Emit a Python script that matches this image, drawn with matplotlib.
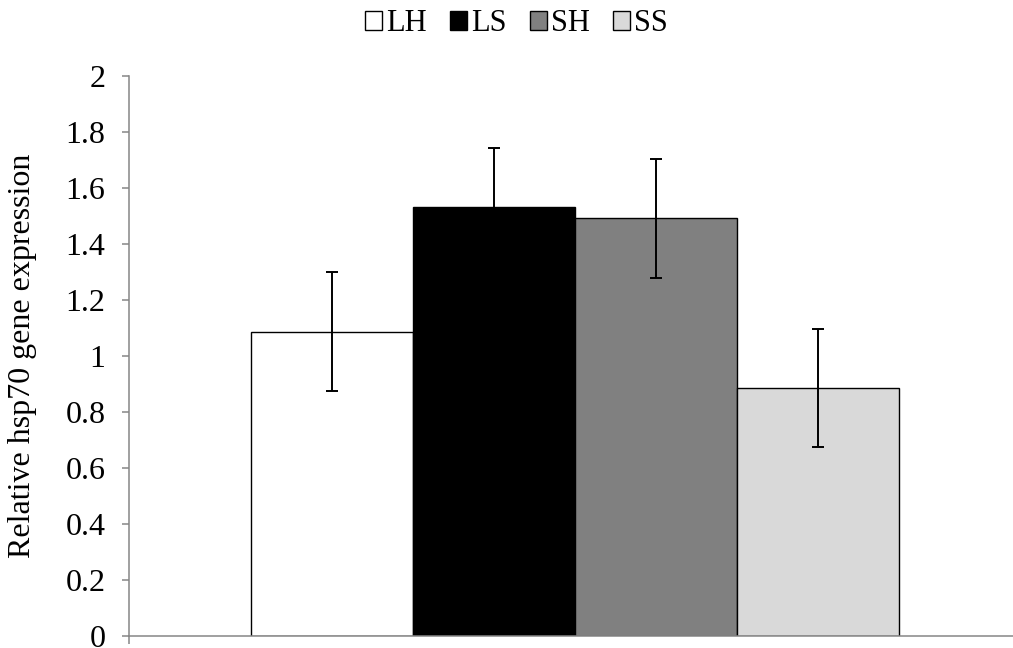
import matplotlib.pyplot as plt
from matplotlib.patches import Rectangle

groups = ["LH", "LS", "SH", "SS"]
expression = [1.087, 1.531, 1.492, 0.885]
errors = [0.212, 0.211, 0.213, 0.211]
colors = ["#ffffff", "#000000", "#808080", "#d9d9d9"]
yticks = [0, 0.2, 0.4, 0.6, 0.8, 1, 1.2, 1.4, 1.6, 1.8, 2]
ytick_labels = ["0", "0.2", "0.4", "0.6", "0.8", "1", "1.2", "1.4", "1.6", "1.8", "2"]

plt.rcParams["font.family"] = ["Liberation Serif", "DejaVu Serif"]
plt.rcParams["font.size"] = 23

axis_grey = "#868686"
bar_width = 0.1814

fig = plt.figure(figsize=(10.13, 6.48), dpi=100)
ax = fig.add_axes([0.1273, 0.0185, 0.8727, 0.8642])

for i, (name, val, err, col) in enumerate(zip(groups, expression, errors, colors)):
    xpos = (i - 1.5) * bar_width
    ax.bar(xpos, val, width=bar_width, color=col, edgecolor="black",
           linewidth=1.0, zorder=2, label=name)
    ax.errorbar(xpos, val, yerr=err, fmt="none", ecolor="black",
                elinewidth=1.4, capsize=4.3, capthick=1.4, zorder=3)

ax.set_xlim(-0.5, 0.49)
ax.set_ylim(0, 2)
ax.set_yticks(yticks)
ax.set_yticklabels(ytick_labels)
ax.set_xticks([-0.5])
ax.set_xticklabels([""])
ax.tick_params(axis="y", direction="out", length=5, width=1.1,
               color=axis_grey, pad=12)
ax.tick_params(axis="x", direction="out", length=6, width=1.1, color=axis_grey)

for side in ["top", "right"]:
    ax.spines[side].set_visible(False)
for side in ["left", "bottom"]:
    ax.spines[side].set_color(axis_grey)
    ax.spines[side].set_linewidth(1.1)
ax.spines["bottom"].set_zorder(4)

ax.set_ylabel("Relative hsp70 gene expression")
ax.yaxis.set_label_coords(-0.1045, 0.5)

handles = [Rectangle((0, 0), 1, 1, facecolor=c, edgecolor="black",
                     linewidth=1.0) for c in colors]
fig.legend(handles, groups, loc="center", bbox_to_anchor=(0.51, 0.963),
           ncol=4, frameon=False, fontsize=22, handlelength=0.55,
           handleheight=0.55, handletextpad=0.15, columnspacing=0.75)

fig.savefig("out.png", dpi=100)
